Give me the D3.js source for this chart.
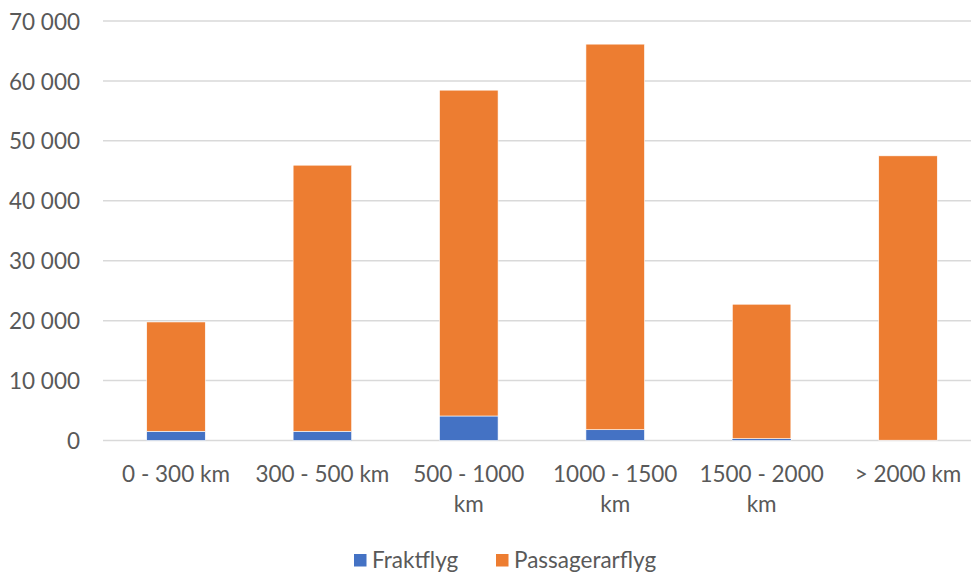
<!DOCTYPE html>
<html>
<head>
<meta charset="utf-8">
<script src="https://cdn.jsdelivr.net/npm/d3@7"></script>
<style>
  html, body { margin: 0; padding: 0; background: #fff; }
  svg { display: block; }
  text { font-family: Lato, "Liberation Sans", Arial, sans-serif; fill: #595959; }
</style>
</head>
<body>
<svg id="chart" width="971" height="573"></svg>
<script>
// Distance bands
const categories = ["0 - 300 km", "300 - 500 km", "500 - 1000 km", "1000 - 1500 km", "1500 - 2000 km", "> 2000 km"];
// Flights per band, by type
const fraktflyg = [1540, 1540, 4090, 1800, 300, 50];
const passagerarflyg = [18240, 44400, 54370, 64340, 22440, 47450];
const seriesNames = ["Fraktflyg", "Passagerarflyg"];
const seriesColors = ["#4472C4", "#ED7D31"];
const yTicks = [0, 10000, 20000, 30000, 40000, 50000, 60000, 70000];

const svg = d3.select("#chart");
const W = 971;

const rows = categories.map((c, i) => ({
  category: c,
  Fraktflyg: fraktflyg[i],
  Passagerarflyg: passagerarflyg[i]
}));

const x = d3.scaleBand()
  .domain(categories)
  .range([102.8, 981.2])
  .paddingInner(0.6)
  .paddingOuter(0.3);

const y = d3.scaleLinear()
  .domain([0, 70000])
  .range([440.5, 21]);

const fmt = d3.formatLocale({ decimal: ",", thousands: " ", grouping: [3], currency: ["", " kr"] }).format(",d");

// Horizontal gridlines
svg.append("g")
  .selectAll("line")
  .data(yTicks)
  .join("line")
  .attr("x1", 103)
  .attr("x2", W)
  .attr("y1", d => y(d))
  .attr("y2", d => y(d))
  .attr("stroke", "#d9d9d9")
  .attr("stroke-width", 1.5);

// Y axis labels
const yAxis = d3.axisLeft(y).tickValues(yTicks).tickFormat(fmt).tickSize(0).tickPadding(0);
const gy = svg.append("g").attr("transform", "translate(80,0)").call(yAxis);
gy.select(".domain").remove();
gy.selectAll("text")
  .attr("font-family", null)
  .attr("font-size", null)
  .style("font-size", "22.5px")
  .attr("fill", "#595959")
  .attr("dy", "0.36em");

// Stacked bars
const stack = d3.stack().keys(seriesNames);
const layers = stack(rows);

svg.append("g")
  .selectAll("g")
  .data(layers)
  .join("g")
  .attr("fill", (d, i) => seriesColors[i])
  .selectAll("rect")
  .data(d => d)
  .join("rect")
  .attr("x", d => x(d.data.category))
  .attr("width", x.bandwidth())
  .attr("y", d => y(d[1]))
  .attr("height", d => Math.max(0, y(d[0]) - y(d[1])))
  .attr("stroke", "#fff")
  .attr("stroke-width", 0.6);

// X axis labels, wrapped onto a second line when too wide
const xAxis = d3.axisBottom(x).tickSize(0).tickPadding(0);
const gx = svg.append("g").attr("transform", "translate(0,0)").call(xAxis);
gx.select(".domain").remove();
gx.selectAll("text")
  .attr("font-family", null)
  .attr("font-size", null)
  .style("font-size", "22.5px")
  .attr("fill", "#595959")
  .attr("dy", null)
  .attr("y", 0)
  .each(function (d) {
    const t = d3.select(this);
    const words = d.split(" ");
    t.text(null);
    const maxW = 138;
    let lines = [];
    let line = [];
    const probe = t.append("tspan");
    words.forEach(w => {
      const test = line.concat([w]).join(" ");
      probe.text(test);
      if (probe.node().getComputedTextLength() > maxW && line.length) {
        lines.push(line.join(" "));
        line = [w];
      } else {
        line.push(w);
      }
    });
    lines.push(line.join(" "));
    probe.remove();
    lines.forEach((l, i) => {
      t.append("tspan")
        .attr("x", 0)
        .attr("y", 482 + i * 30)
        .text(l);
    });
  });

// Legend
const legend = svg.append("g");
const legendItems = [
  { name: seriesNames[0], color: seriesColors[0], x: 354 },
  { name: seriesNames[1], color: seriesColors[1], x: 496 }
];
legendItems.forEach(it => {
  legend.append("rect")
    .attr("x", it.x)
    .attr("y", 554)
    .attr("width", 12.5)
    .attr("height", 12.5)
    .attr("fill", it.color);
  legend.append("text")
    .attr("x", it.x + 18)
    .attr("y", 568)
    .style("font-size", "22.5px")
    .text(it.name);
});
</script>
</body>
</html>
